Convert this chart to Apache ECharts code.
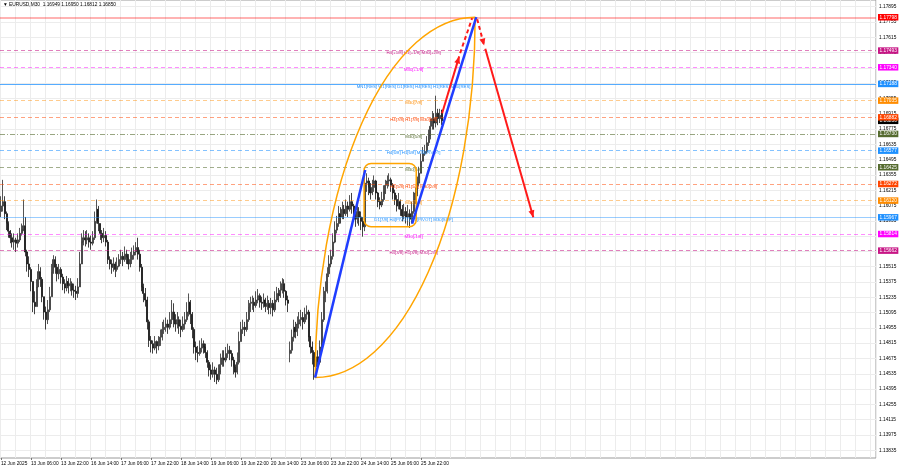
<!DOCTYPE html>
<html><head><meta charset="utf-8">
<script src="https://cdn.jsdelivr.net/npm/echarts@6/dist/echarts.min.js"></script>
<style>html,body{margin:0;padding:0;background:#fff}#c{width:900px;height:468px}</style>
</head><body><div id="c"></div>
<script>
// ---------- data ----------
const title = '\u25BC EURUSD,M30  1.16949 1.16950 1.16812 1.16850';
const xTickLabels = ['12 Jun 2025','13 Jun 06:00','13 Jun 22:00','16 Jun 14:00','17 Jun 06:00','17 Jun 22:00','18 Jun 14:00','19 Jun 06:00','19 Jun 22:00','20 Jun 14:00','23 Jun 06:00','23 Jun 22:00','24 Jun 14:00','25 Jun 06:00','25 Jun 22:00'];
const yTickLabels = [1.13835,1.13975,1.14115,1.14255,1.14395,1.14535,1.14675,1.14815,1.14955,1.15095,1.15235,1.15375,1.15515,1.15655,1.15795,1.15935,1.16075,1.16215,1.16355,1.16495,1.16635,1.16775,1.16915,1.17055,1.17195,1.17335,1.17475,1.17615,1.17755,1.17895];

// hourly bars from 12 Jun 14:00 to 26 Jun 09:00
const opens = [1.1602,1.1607,1.1611,1.1600,1.1591,1.1584,1.1578,1.1574,1.1576,1.1573,1.1576,1.1582,1.1585,1.1589,1.1565,1.1554,1.1549,1.1538,1.1519,1.1515,1.1533,1.1547,1.1540,1.1524,1.1510,1.1503,1.1512,1.1524,1.1547,1.1558,1.1551,1.1545,1.1549,1.1542,1.1536,1.1532,1.1538,1.1534,1.1536,1.1530,1.1529,1.1527,1.1533,1.1554,1.1574,1.1578,1.1576,1.1578,1.1574,1.1573,1.1578,1.1593,1.1604,1.1591,1.1582,1.1578,1.1580,1.1574,1.1558,1.1554,1.1551,1.1554,1.1549,1.1552,1.1558,1.1561,1.1558,1.1563,1.1560,1.1554,1.1558,1.1562,1.1565,1.1569,1.1563,1.1551,1.1533,1.1527,1.1521,1.1501,1.1484,1.1481,1.1477,1.1483,1.1479,1.1483,1.1487,1.1494,1.1496,1.1499,1.1496,1.1503,1.1510,1.1503,1.1499,1.1503,1.1497,1.1494,1.1499,1.1503,1.1510,1.1519,1.1508,1.1494,1.1478,1.1473,1.1472,1.1477,1.1481,1.1478,1.1473,1.1464,1.1457,1.1453,1.1457,1.1453,1.1448,1.1455,1.1462,1.1468,1.1466,1.1472,1.1475,1.1472,1.1466,1.1460,1.1455,1.1464,1.1483,1.1494,1.1496,1.1494,1.1503,1.1515,1.1518,1.1519,1.1516,1.1521,1.1525,1.1519,1.1518,1.1521,1.1515,1.1518,1.1514,1.1518,1.1512,1.1521,1.1527,1.1525,1.1530,1.1536,1.1529,1.1521,1.1472,1.1475,1.1487,1.1496,1.1492,1.1499,1.1503,1.1505,1.1501,1.1508,1.1510,1.1487,1.1478,1.1473,1.1460,1.1469,1.1464,1.1478,1.1503,1.1524,1.1529,1.1545,1.1554,1.1561,1.1574,1.1585,1.1591,1.1600,1.1597,1.1604,1.1600,1.1607,1.1604,1.1611,1.1607,1.1600,1.1595,1.1602,1.1597,1.1593,1.1588,1.1628,1.1630,1.1624,1.1619,1.1624,1.1630,1.1619,1.1611,1.1608,1.1613,1.1620,1.1626,1.1630,1.1631,1.1626,1.1619,1.1613,1.1607,1.1611,1.1604,1.1598,1.1602,1.1597,1.1600,1.1595,1.1602,1.1613,1.1619,1.1628,1.1637,1.1648,1.1655,1.1657,1.1665,1.1671,1.1680,1.1687,1.1683,1.1692,1.1687,1.16949];
const closes = [1.1607,1.1611,1.1600,1.1591,1.1584,1.1578,1.1574,1.1576,1.1573,1.1576,1.1582,1.1585,1.1589,1.1565,1.1554,1.1549,1.1538,1.1519,1.1515,1.1533,1.1547,1.1540,1.1524,1.1510,1.1503,1.1512,1.1524,1.1547,1.1558,1.1551,1.1545,1.1549,1.1542,1.1536,1.1532,1.1538,1.1534,1.1536,1.1530,1.1529,1.1527,1.1533,1.1554,1.1574,1.1578,1.1576,1.1578,1.1574,1.1573,1.1578,1.1593,1.1604,1.1591,1.1582,1.1578,1.1580,1.1574,1.1558,1.1554,1.1551,1.1554,1.1549,1.1552,1.1558,1.1561,1.1558,1.1563,1.1560,1.1554,1.1558,1.1562,1.1565,1.1569,1.1563,1.1551,1.1533,1.1527,1.1521,1.1501,1.1484,1.1481,1.1477,1.1483,1.1479,1.1483,1.1487,1.1494,1.1496,1.1499,1.1496,1.1503,1.1510,1.1503,1.1499,1.1503,1.1497,1.1494,1.1499,1.1503,1.1510,1.1519,1.1508,1.1494,1.1478,1.1473,1.1472,1.1477,1.1481,1.1478,1.1473,1.1464,1.1457,1.1453,1.1457,1.1453,1.1448,1.1455,1.1462,1.1468,1.1466,1.1472,1.1475,1.1472,1.1466,1.1460,1.1455,1.1464,1.1483,1.1494,1.1496,1.1494,1.1503,1.1515,1.1518,1.1519,1.1516,1.1521,1.1525,1.1519,1.1518,1.1521,1.1515,1.1518,1.1514,1.1518,1.1512,1.1521,1.1527,1.1525,1.1530,1.1536,1.1529,1.1521,1.1518,1.1475,1.1487,1.1496,1.1492,1.1499,1.1503,1.1505,1.1501,1.1508,1.1510,1.1487,1.1478,1.1473,1.1460,1.1469,1.1464,1.1478,1.1503,1.1524,1.1529,1.1545,1.1554,1.1561,1.1574,1.1585,1.1591,1.1600,1.1597,1.1604,1.1600,1.1607,1.1604,1.1611,1.1607,1.1600,1.1595,1.1602,1.1597,1.1593,1.1588,1.1628,1.1630,1.1624,1.1619,1.1624,1.1630,1.1619,1.1611,1.1608,1.1613,1.1620,1.1626,1.1630,1.1631,1.1626,1.1619,1.1613,1.1607,1.1611,1.1604,1.1598,1.1602,1.1597,1.1600,1.1595,1.1602,1.1613,1.1619,1.1628,1.1637,1.1648,1.1655,1.1657,1.1665,1.1671,1.1680,1.1687,1.1683,1.1692,1.1687,1.1690,1.16850];
const lows = [1.1597,1.1602,1.1595,1.1585,1.1578,1.1573,1.1569,1.1567,1.1565,1.1569,1.1574,1.1580,1.1584,1.1561,1.1547,1.1542,1.1529,1.1510,1.1508,1.1515,1.1533,1.1533,1.1519,1.1503,1.1494,1.1499,1.1510,1.1524,1.1545,1.1545,1.1538,1.1540,1.1536,1.1530,1.1527,1.1529,1.1527,1.1529,1.1525,1.1523,1.1521,1.1523,1.1533,1.1554,1.1571,1.1570,1.1572,1.1569,1.1567,1.1571,1.1576,1.1591,1.1584,1.1576,1.1573,1.1574,1.1570,1.1554,1.1549,1.1545,1.1547,1.1542,1.1547,1.1551,1.1554,1.1552,1.1556,1.1554,1.1549,1.1551,1.1554,1.1558,1.1562,1.1558,1.1547,1.1529,1.1519,1.1515,1.1494,1.1478,1.1473,1.1472,1.1475,1.1472,1.1475,1.1479,1.1484,1.1490,1.1492,1.1490,1.1494,1.1499,1.1496,1.1492,1.1495,1.1490,1.1487,1.1492,1.1494,1.1501,1.1506,1.1499,1.1486,1.1472,1.1466,1.1464,1.1470,1.1473,1.1472,1.1468,1.1459,1.1451,1.1448,1.1450,1.1446,1.1444,1.1446,1.1453,1.1460,1.1460,1.1464,1.1468,1.1466,1.1460,1.1453,1.1450,1.1453,1.1462,1.1483,1.1490,1.1488,1.1492,1.1501,1.1510,1.1512,1.1510,1.1514,1.1518,1.1514,1.1512,1.1514,1.1510,1.1512,1.1508,1.1508,1.1506,1.1510,1.1519,1.1519,1.1523,1.1527,1.1523,1.1516,1.1510,1.1464,1.1472,1.1483,1.1486,1.1488,1.1495,1.1497,1.1494,1.1499,1.1503,1.1483,1.1472,1.1462,1.1448,1.1453,1.1457,1.1462,1.1475,1.1501,1.1519,1.1527,1.1542,1.1551,1.1558,1.1573,1.1582,1.1588,1.1591,1.1595,1.1595,1.1598,1.1597,1.1602,1.1600,1.1593,1.1588,1.1591,1.1589,1.1585,1.1579,1.1584,1.1620,1.1617,1.1613,1.1617,1.1620,1.1613,1.1606,1.1604,1.1606,1.1611,1.1618,1.1623,1.1625,1.1620,1.1613,1.1608,1.1602,1.1604,1.1598,1.1593,1.1595,1.1591,1.1589,1.1587,1.1591,1.1600,1.1609,1.1616,1.1625,1.1637,1.1648,1.1653,1.1655,1.1662,1.1668,1.1677,1.1677,1.1679,1.1681,1.1683,1.16812];
const highs = [1.1616,1.1631,1.1616,1.1602,1.1593,1.1585,1.1582,1.1582,1.1578,1.1582,1.1587,1.1591,1.1613,1.1597,1.1567,1.1561,1.1551,1.1538,1.1529,1.1540,1.1554,1.1551,1.1542,1.1524,1.1515,1.1521,1.1533,1.1554,1.1562,1.1561,1.1554,1.1554,1.1551,1.1545,1.1540,1.1543,1.1541,1.1541,1.1538,1.1536,1.1534,1.1541,1.1565,1.1582,1.1585,1.1584,1.1585,1.1582,1.1580,1.1584,1.1602,1.1613,1.1607,1.1591,1.1585,1.1587,1.1584,1.1576,1.1561,1.1558,1.1560,1.1556,1.1560,1.1563,1.1567,1.1565,1.1570,1.1567,1.1563,1.1565,1.1569,1.1571,1.1574,1.1578,1.1567,1.1554,1.1536,1.1532,1.1524,1.1503,1.1488,1.1484,1.1488,1.1484,1.1488,1.1494,1.1501,1.1503,1.1505,1.1503,1.1510,1.1521,1.1518,1.1508,1.1510,1.1506,1.1503,1.1506,1.1510,1.1519,1.1527,1.1521,1.1510,1.1496,1.1483,1.1479,1.1484,1.1486,1.1484,1.1481,1.1475,1.1466,1.1462,1.1464,1.1460,1.1459,1.1462,1.1472,1.1475,1.1475,1.1478,1.1481,1.1479,1.1475,1.1469,1.1462,1.1473,1.1492,1.1501,1.1503,1.1501,1.1510,1.1521,1.1524,1.1525,1.1523,1.1529,1.1531,1.1527,1.1524,1.1527,1.1523,1.1525,1.1521,1.1523,1.1521,1.1529,1.1533,1.1532,1.1538,1.1541,1.1540,1.1530,1.1525,1.1483,1.1494,1.1503,1.1501,1.1506,1.1510,1.1512,1.1510,1.1514,1.1516,1.1512,1.1488,1.1483,1.1475,1.1478,1.1475,1.1484,1.1510,1.1533,1.1538,1.1551,1.1562,1.1567,1.1582,1.1593,1.1598,1.1607,1.1606,1.1611,1.1608,1.1613,1.1611,1.1617,1.1619,1.1609,1.1604,1.1608,1.1606,1.1602,1.1597,1.1637,1.1637,1.1633,1.1628,1.1631,1.1635,1.1631,1.1620,1.1615,1.1620,1.1626,1.1631,1.1635,1.1637,1.1633,1.1628,1.1622,1.1617,1.1619,1.1613,1.1608,1.1609,1.1606,1.1608,1.1604,1.1611,1.1620,1.1624,1.1634,1.1643,1.1655,1.1661,1.1663,1.1671,1.1677,1.1687,1.1694,1.1692,1.1708,1.1696,1.1696,1.16950];
const lastPrice = 1.16850;

// Murrey-math style levels
const levels = [1.17798,1.17493,1.17340,1.17188,1.17035,1.16882,1.16730,1.16577,1.16425,1.16272,1.16120,1.15967,1.15814,1.15662];
const levelNames = ['','H4[+1/8] H1[+1/8] M30[+2/8]','M30[+1/8]','MN1[RES] W1[RES] D1[RES] H4[RES] H1[RES] M30[RES]','M30[7/8]','H4[7/8] H1[7/8] M30[6/8]','M30[5/8]','H4[6/8] H1[6/8] M30[PIVOT]','M30[3/8]','H4[5/8] H1[5/8] M30[2/8]','M30[1/8]','D1[7/8] H4[PIVOT] H1[PIVOT] M30[SUP]','M30[-1/8]','H4[3/8] H1[3/8] M30[-2/8]'];
const levelTextAt = 220; // bar slot where level names are anchored

// drawing objects (bar slot, price)
const blueLines = [[167.5,1.1450,194.2,1.1640],[219.2,1.1591,253.4,1.1780]];
const redLines = [[235.2,1.1692,244.3,1.1744],[244.8,1.1747,251.2,1.1779],[253.9,1.1778,257.6,1.1754],[258.2,1.1751,283.8,1.15967]];
const ellipseAnchors = [[167.5,1.1450,252.8,1.17798]];
const boxAnchors = [[193.6,1.1646,221.4,1.1588]];

// ---------- styles ----------
const levelColors = ['#ff0000','#c71585','#ff00ff','#1e90ff','#ff8c00','#ff4500','#556b2f','#1e90ff','#556b2f','#ff4500','#ff8c00','#1e90ff','#ff00ff','#c71585'];
const levelLineColors = ['rgba(255,0,0,0.4)','rgba(199,21,133,0.55)','rgba(255,0,255,0.45)','rgba(30,144,255,0.75)','rgba(255,140,0,0.45)','rgba(255,69,0,0.5)','rgba(85,107,47,0.6)','rgba(30,144,255,0.55)','rgba(85,107,47,0.55)','rgba(255,69,0,0.5)','rgba(255,140,0,0.45)','rgba(30,144,255,0.45)','rgba(255,0,255,0.45)','rgba(199,21,133,0.55)'];
const levelLineTypes = ['solid',[4,3],[4,3],'solid',[4,3],[4,3],[5,2,1,2],[4,3],[4,3],[4,3],[4,3],'solid',[4,3],[4,3]];
const redDashed = [false,true,true,false];
const redHead = [true,false,true,true];
const FONT = 'Liberation Sans';
const NSLOTS = 467;

const slots = Array.from({length: NSLOTS}, (_, i) => String(i));
const candleData = opens.map((o, i) => [o, closes[i], lows[i], highs[i]]);

function arrowHead(a, b, len, half) {
  const dx = b[0]-a[0], dy = b[1]-a[1];
  const L = Math.sqrt(dx*dx+dy*dy) || 1;
  const ux = dx/L, uy = dy/L;
  const bx = b[0]-ux*len, by = b[1]-uy*len;
  return [[b[0],b[1]],[bx-uy*half, by+ux*half],[bx+uy*half, by-ux*half]];
}

const chart = echarts.init(document.getElementById('c'), null, {renderer:'canvas'});
chart.setOption({
  animation: false,
  backgroundColor: '#ffffff',
  title: {text: title, left: 3, top: 2, padding: 0,
    textStyle: {fontSize: 4.8, fontWeight: 'normal', fontFamily: FONT, color: '#000'}},
  grid: {left: 0, right: 24, top: 0, bottom: 10, show: true, borderColor: '#9a9a9a', borderWidth: 1,
    containLabel: false, outerBoundsMode: 'none'},
  xAxis: [{
    type: 'category', data: slots, boundaryGap: true,
    axisLine: {show: false},
    axisTick: {show: true, alignWithLabel: true, length: 2, lineStyle: {color: '#777'},
      interval: (i) => i % 16 === 0 && i / 16 < xTickLabels.length},
    axisLabel: {show: true, align: 'left', margin: 3, fontSize: 4.8, fontFamily: FONT, color: '#000',
      interval: (i) => i % 16 === 0 && i / 16 < xTickLabels.length,
      formatter: (v, i) => xTickLabels[i / 16] || ''},
    splitLine: {show: true, interval: (i) => i % 8 === 0, lineStyle: {color: '#ececec', width: 1}}
  }, {
    type: 'value', min: -0.5, max: NSLOTS - 0.5, show: false
  }],
  yAxis: [{
    type: 'value', position: 'right', min: 1.13764, max: 1.17956, scale: true,
    axisLine: {show: false},
    axisTick: {show: false, customValues: yTickLabels},
    axisLabel: {customValues: yTickLabels, margin: 3, fontSize: 4.8, fontFamily: FONT, color: '#000',
      formatter: (v) => v.toFixed(5)},
    splitLine: {show: true, lineStyle: {color: '#ececec', width: 1}}
  }],
  series: [
    {
      type: 'line', data: [], silent: true, z: 1,
      markLine: {
        symbol: ['none','none'], silent: true, animation: false, precision: 5,
        label: {show: true, position: 'end', distance: 2, color: '#fff', fontSize: 4.8, fontFamily: FONT,
          padding: [1, 1.5, 0.5, 1.5]},
        data: [{yAxis: lastPrice, lineStyle: {color: 'rgba(0,0,0,0)'}, label: {formatter: lastPrice.toFixed(5), backgroundColor: '#000'}}]
          .concat(levels.map((v, i) => ({
            yAxis: v,
            lineStyle: {color: levelLineColors[i], type: levelLineTypes[i], width: i === 0 ? 1.5 : 1},
            label: {formatter: v.toFixed(5), backgroundColor: levelColors[i]}
          })))
      }
    },
    {
      type: 'candlestick', data: candleData, barWidth: 1.5, z: 3, silent: true,
      itemStyle: {color: '#9a9a9a', color0: '#111111', borderColor: '#2a2a2a', borderColor0: '#111111', borderWidth: 0.8}
    },
    {
      type: 'custom', xAxisIndex: 1, yAxisIndex: 0, z: 4, silent: true,
      data: levels.map((v, i) => [levelTextAt, v, i]).filter(d => levelNames[d[2]]),
      encode: {x: 0, y: 1},
      renderItem: (params, api) => {
        const p = api.coord([api.value(0), api.value(1)]);
        const k = api.value(2);
        return {type: 'text', x: p[0], y: p[1] + 0.5,
          style: {text: levelNames[k], fill: levelColors[k], fontSize: 4.3, fontFamily: FONT, align: 'center', verticalAlign: 'top'}};
      }
    },
    {
      type: 'custom', xAxisIndex: 1, yAxisIndex: 0, z: 5, silent: true,
      data: boxAnchors, encode: {x: [0, 2], y: [1, 3]},
      renderItem: (params, api) => {
        const a = api.coord([api.value(0), api.value(1)]);
        const b = api.coord([api.value(2), api.value(3)]);
        return {type: 'rect', shape: {x: a[0], y: a[1], width: b[0]-a[0], height: b[1]-a[1], r: 7},
          style: {fill: 'none', stroke: '#ffa500', lineWidth: 1.5}};
      }
    },
    {
      type: 'custom', xAxisIndex: 1, yAxisIndex: 0, z: 5, silent: true,
      data: ellipseAnchors, encode: {x: [0, 2], y: [1, 3]},
      renderItem: (params, api) => {
        const a = api.coord([api.value(0), api.value(1)]);
        const b = api.coord([api.value(2), api.value(3)]);
        const rx = b[0]-a[0], ry = a[1]-b[1];
        const d = 'M' + a[0] + ' ' + a[1] + ' A' + rx + ' ' + ry + ' 0 0 1 ' + b[0] + ' ' + b[1] +
                  ' M' + a[0] + ' ' + a[1] + ' A' + rx + ' ' + ry + ' 0 0 0 ' + b[0] + ' ' + b[1];
        return {type: 'path', shape: {pathData: d}, style: {fill: 'none', stroke: '#ffa500', lineWidth: 1.5}};
      }
    },
    {
      type: 'custom', xAxisIndex: 1, yAxisIndex: 0, z: 6, silent: true,
      data: blueLines, encode: {x: [0, 2], y: [1, 3]},
      renderItem: (params, api) => {
        const a = api.coord([api.value(0), api.value(1)]);
        const b = api.coord([api.value(2), api.value(3)]);
        return {type: 'line', shape: {x1: a[0], y1: a[1], x2: b[0], y2: b[1]},
          style: {stroke: '#1f3dff', lineWidth: 2.5}};
      }
    },
    {
      type: 'custom', xAxisIndex: 1, yAxisIndex: 0, z: 7, silent: true,
      data: redLines.map((s, i) => s.concat([i])), encode: {x: [0, 2], y: [1, 3]},
      renderItem: (params, api) => {
        const a = api.coord([api.value(0), api.value(1)]);
        const b = api.coord([api.value(2), api.value(3)]);
        const k = api.value(4);
        const children = [{type: 'line', shape: {x1: a[0], y1: a[1], x2: b[0], y2: b[1]},
          style: {stroke: '#ff1a1a', lineWidth: 2, lineDash: redDashed[k] ? [4, 3] : null}}];
        if (redHead[k]) {
          children.push({type: 'polygon', shape: {points: arrowHead(a, b, 7, 3)}, style: {fill: '#ff1a1a'}});
        }
        return {type: 'group', children: children};
      }
    }
  ]
});
</script>
</body></html>
